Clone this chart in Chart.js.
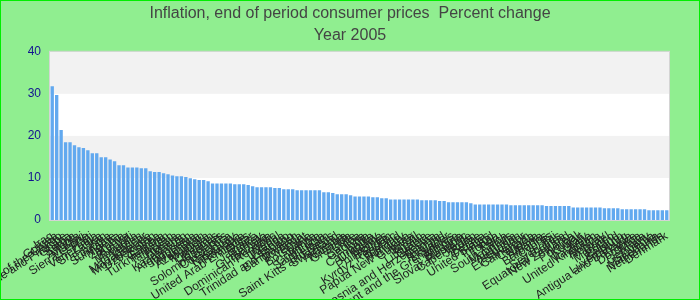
<!DOCTYPE html>
<html>
<head>
<meta charset="utf-8">
<script src="https://cdn.jsdelivr.net/npm/chart.js@4/dist/chart.umd.min.js"></script>
<style>
  html, body { margin: 0; padding: 0; background: #90ee90; }
  #wrap {
    width: 700px; height: 300px; box-sizing: border-box;
    border: 1px solid #00ee00; background: #90ee90;
  }
</style>
</head>
<body>
<div id="wrap"><canvas id="chart" width="698" height="298"></canvas></div>
<script>
const titleLines = ['Inflation, end of period consumer prices  Percent change', 'Year 2005'];

const countries = [
  'Iraq', 'Guinea', 'Democratic Republic of the Congo', 'Sao Tome and Principe', 'Ghana',
  'Serbia', 'Angola', 'Malawi', 'Sierra Leone', 'Haiti',
  'Venezuela', 'Sri Lanka', 'Iran', 'Ethiopia', 'Suriname',
  'Nigeria', 'Zambia', 'Kenya', 'Burundi', 'Mongolia',
  'Yemen', 'Madagascar', 'Mozambique', 'Uzbekistan', 'Eritrea',
  'Gambia', 'Turkmenistan', 'Tajikistan', 'Russia', 'Ukraine',
  'Kazakhstan', 'Afghanistan', 'Indonesia', 'Argentina', 'Azerbaijan',
  'Moldova', 'Pakistan', 'Belarus', 'Honduras', 'Solomon Islands',
  'Costa Rica', 'Paraguay', 'Nicaragua', 'Romania', 'United Arab Emirates',
  'Qatar', 'Jamaica', 'Turkey', 'Guatemala', 'Tanzania',
  'Dominican Republic', 'Nepal', 'Uganda', 'Lesotho', 'Trinidad and Tobago',
  'Bangladesh', 'Rwanda', 'Egypt', 'Botswana', 'Latvia',
  'Colombia', 'Saint Lucia', 'Vietnam', 'Saint Kitts and Nevis', 'Swaziland',
  'Armenia', 'Namibia', 'Grenada', 'Chile', 'Samoa',
  'Georgia', 'India', 'Cambodia', 'Uruguay', 'Bolivia',
  'Philippines', 'Sudan', 'Kyrgyz Republic', 'Iceland', 'Hungary',
  'Papua New Guinea', 'Guyana', 'Brazil', 'Spain', 'Lithuania',
  'Greece', 'Bosnia and Herzegovina', 'Estonia', 'Thailand', 'Ecuador',
  'Saint Vincent and the Grenadines', 'Mexico', 'Bulgaria', 'Slovak Republic', 'Cape Verde',
  'Jordan', 'Belize', 'Croatia', 'United States', 'Ireland',
  'Tonga', 'Peru', 'South Africa', 'Mauritius', 'Australia',
  'Lebanon', 'El Salvador', 'Cameroon', 'Canada', 'Tunisia',
  'Albania', 'Barbados', 'Cyprus', 'Fiji', 'Seychelles',
  'Equatorial Guinea', 'New Zealand', 'Korea', 'Portugal', 'Kuwait',
  'Italy', 'Malaysia', 'United Kingdom', 'Austria', 'Norway',
  'Israel', 'Morocco', 'Poland', 'Belgium', 'Luxembourg',
  'Antigua and Barbuda', 'France', 'Dominica', 'Malta', 'Germany',
  'Slovenia', 'Macedonia', 'Netherlands', 'Denmark'
];

const inflation = [
  31.8, 29.7, 21.4, 18.5, 18.5, 17.8, 17.3, 17.1, 16.6, 15.9,
  15.9, 14.9, 14.9, 14.4, 14.0, 13.0, 13.0, 12.5, 12.5, 12.5,
  12.3, 12.3, 11.6, 11.4, 11.4, 11.1, 10.9, 10.6, 10.4, 10.4,
  10.2, 9.9, 9.7, 9.5, 9.5, 9.2, 8.7, 8.7, 8.7, 8.7,
  8.7, 8.5, 8.5, 8.5, 8.3, 8.0, 7.8, 7.8, 7.8, 7.8,
  7.6, 7.6, 7.3, 7.3, 7.3, 7.1, 7.1, 7.1, 7.1, 7.1,
  7.1, 6.6, 6.6, 6.4, 6.1, 6.1, 6.1, 5.9, 5.6, 5.6,
  5.6, 5.6, 5.4, 5.4, 5.2, 5.2, 4.9, 4.9, 4.9, 4.9,
  4.9, 4.9, 4.9, 4.7, 4.7, 4.7, 4.7, 4.5, 4.5, 4.2,
  4.2, 4.2, 4.2, 4.2, 4.0, 3.7, 3.7, 3.7, 3.7, 3.7,
  3.7, 3.7, 3.7, 3.5, 3.5, 3.5, 3.5, 3.5, 3.5, 3.5,
  3.5, 3.3, 3.3, 3.3, 3.3, 3.3, 3.3, 3.0, 3.0, 3.0,
  3.0, 3.0, 3.0, 3.0, 2.8, 2.8, 2.8, 2.8, 2.55, 2.55,
  2.55, 2.55, 2.55, 2.55, 2.3, 2.3, 2.3, 2.3, 2.3
];

const yTicks = [0, 10, 20, 30, 40];
// shaded horizontal bands (value ranges)
const shadedBands = [[10, 20], [30, 40]];

// white plot area with grey bands, then a thin frame on top
const plotBackground = {
  id: 'plotBackground',
  beforeDraw(chart) {
    const { ctx, chartArea: a, scales: { y } } = chart;
    ctx.save();
    ctx.fillStyle = '#ffffff';
    ctx.fillRect(a.left, a.top, a.right - a.left, a.bottom - a.top);
    ctx.fillStyle = '#f2f2f2';
    shadedBands.forEach(([lo, hi]) => {
      const top = y.getPixelForValue(hi);
      const bottom = y.getPixelForValue(lo);
      ctx.fillRect(a.left, top, a.right - a.left, bottom - top);
    });
    ctx.restore();
  },
  afterDraw(chart) {
    const { ctx, chartArea: a } = chart;
    ctx.save();
    ctx.strokeStyle = '#d4d4d4';
    ctx.lineWidth = 1;
    ctx.strokeRect(a.left - 0.5, a.top - 0.5, a.right - a.left + 1, a.bottom - a.top + 1);
    ctx.restore();
  }
};

const labelFont = { family: 'Liberation Sans, Arial, sans-serif', size: 12 };

new Chart(document.getElementById('chart'), {
  type: 'bar',
  data: {
    labels: countries,
    datasets: [{
      data: inflation,
      backgroundColor: '#62a9ef',
      borderWidth: 0,
      categoryPercentage: 1.0,
      barPercentage: 0.75
    }]
  },
  options: {
    responsive: false,
    animation: false,
    plugins: {
      legend: { display: false },
      tooltip: { enabled: false },
      title: {
        display: true,
        text: titleLines,
        color: '#444444',
        font: { family: 'Liberation Sans, Arial, sans-serif', size: 16, weight: 'normal', lineHeight: 1.4 },
        padding: { top: 1, bottom: 5 }
      }
    },
    scales: {
      x: {
        grid: { display: false, drawTicks: false },
        border: { display: false },
        ticks: {
          autoSkip: false,
          minRotation: 33,
          maxRotation: 33,
          padding: 9,
          color: '#222222',
          font: labelFont
        },
        afterFit(scale) { scale.height = 79; }
      },
      y: {
        min: 0,
        max: 40,
        grid: { display: false, drawTicks: false },
        border: { display: false },
        afterBuildTicks(scale) { scale.ticks = yTicks.map(v => ({ value: v })); },
        ticks: {
          padding: 9,
          color: '#121290',
          font: labelFont
        },
        afterFit(scale) { scale.width = 49; }
      },
      // empty right-hand axis that only reserves the right margin
      yRight: {
        position: 'right',
        display: true,
        grid: { display: false, drawTicks: false },
        border: { display: false },
        ticks: { display: false },
        afterFit(scale) { scale.width = 30; }
      }
    }
  },
  plugins: [plotBackground]
});
</script>
</body>
</html>
